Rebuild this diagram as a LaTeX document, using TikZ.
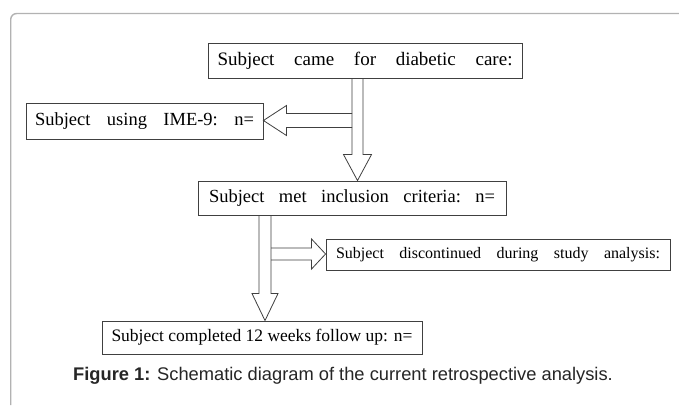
\documentclass[tikz,border=0pt]{standalone}
\usepackage{fontspec}
\setmainfont{Liberation Serif}
\newfontfamily\capfont{Liberation Sans}
\usetikzlibrary{calc}
\begin{document}
\begin{tikzpicture}[x=1pt,y=-1pt,
  box/.style={draw=black!75, line width=0.9pt, inner sep=0pt, align=center, text=black},
  blk/.style={draw=black!75, line width=0.8pt, line join=miter},
  frame/.style={draw=black!30, line width=1.4pt, rounded corners=6pt}]
\useasboundingbox (0,0) rectangle (679,405);
\fill[white] (0,0) rectangle (679,405);
\draw[frame] (10.7,405) -- (10.7,13.5) -- (679,13.5);

\node[box, minimum width=314pt, minimum height=35pt, font=\fontsize{19}{22}\selectfont] (b1) at (365,60.5)
  {\makebox[295pt]{Subject\hfill came\hfill for\hfill diabetic\hfill care:}};
\node[box, minimum width=237pt, minimum height=36pt, font=\fontsize{18.5}{22}\selectfont] (b2) at (144.5,121)
  {\makebox[219pt]{Subject\hfill using\hfill IME-9:\hfill n=}};
\node[box, minimum width=308pt, minimum height=34pt, font=\fontsize{18.5}{22}\selectfont] (b3) at (352,198)
  {\makebox[286pt]{Subject\hfill met\hfill inclusion\hfill criteria:\hfill n=}};
\node[box, minimum width=344pt, minimum height=31pt, font=\fontsize{16}{19}\selectfont] (b4) at (498,254.5)
  {\makebox[324pt]{Subject\hfill discontinued\hfill during\hfill study\hfill analysis:}};
\node[box, minimum width=320pt, minimum height=33pt, font=\fontsize{17.5}{20}\selectfont] (b5) at (262,337.5)
  {\raisebox{1.5pt}{Subject completed 12 weeks follow up: n=}};

\node[font=\capfont\fontsize{18.3}{21}\selectfont, text=black!85, anchor=base] (cap) at (343,380)
  {\textbf{Figure 1:} Schematic diagram of the current retrospective analysis.};

\coordinate (ax) at (357.5,0);
\coordinate (ay) at (0,120.5);
\coordinate (cx) at (265,0);
\coordinate (cy) at (0,254);

% left arrow to b2
\draw[blk] ($(ax |- ay)+(-5.5,-7)$) -- ($(b2.east |- ay)+(23,-7)$) -- ($(b2.east |- ay)+(23,-15)$)
  -- (b2.east |- ay) -- ($(b2.east |- ay)+(23,15)$) -- ($(b2.east |- ay)+(23,7)$) -- ($(ax |- ay)+(-5.5,7)$);
% down arrow b1 -> b3
\draw[blk] ($(ax |- b1.south)+(-5.5,0)$) -- ($(ax |- b3.north)+(-5.5,-26)$) -- ($(ax |- b3.north)+(-14,-26)$)
  -- (ax |- b3.north) -- ($(ax |- b3.north)+(14,-26)$) -- ($(ax |- b3.north)+(5.5,-26)$) -- ($(ax |- b1.south)+(5.5,0)$);
% right arrow to b4
\draw[blk] ($(cx |- cy)+(6,-6)$) -- ($(b4.west |- cy)+(-14,-6)$) -- ($(b4.west |- cy)+(-14,-15)$)
  -- (b4.west |- cy) -- ($(b4.west |- cy)+(-14,15)$) -- ($(b4.west |- cy)+(-14,6)$) -- ($(cx |- cy)+(6,6)$);
% down arrow b3 -> b5
\draw[blk] ($(cx |- b3.south)+(-6,0)$) -- ($(cx |- b5.north)+(-6,-27)$) -- ($(cx |- b5.north)+(-13,-27)$)
  -- (cx |- b5.north) -- ($(cx |- b5.north)+(13,-27)$) -- ($(cx |- b5.north)+(6,-27)$) -- ($(cx |- b3.south)+(6,0)$);
\end{tikzpicture}
\end{document}
